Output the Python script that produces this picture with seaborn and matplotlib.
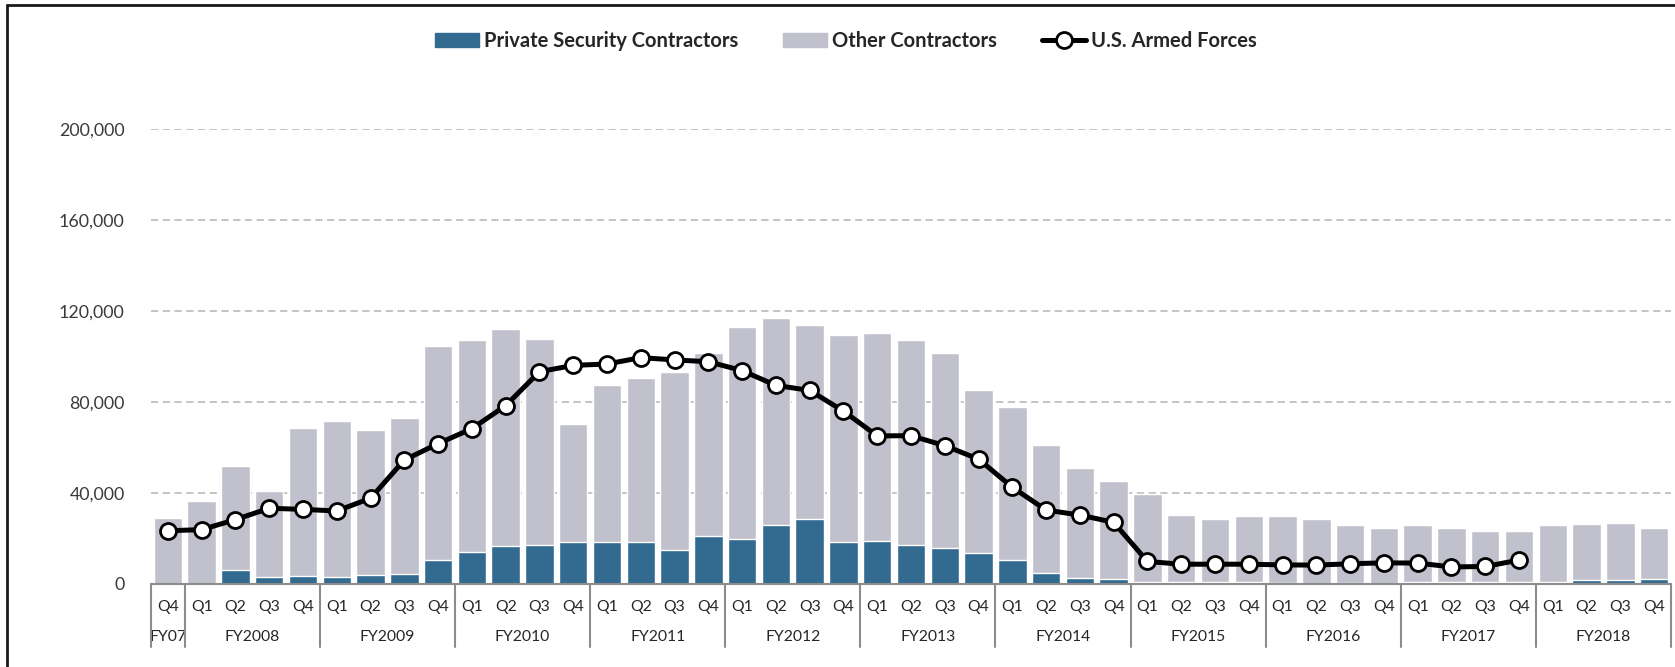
import numpy as np
import pandas as pd
import matplotlib
matplotlib.use("Agg")
import matplotlib.pyplot as plt
from matplotlib.lines import Line2D
from matplotlib.patches import Patch
import matplotlib.transforms as mtransforms
import seaborn as sns

# ---- data ----
quarters = ["Q4"] + ["Q1", "Q2", "Q3", "Q4"] * 11
fiscal_years = ["FY07", "FY2008", "FY2009", "FY2010", "FY2011", "FY2012",
                "FY2013", "FY2014", "FY2015", "FY2016", "FY2017", "FY2018"]
fy_sizes = [1] + [4] * 11

private_security = [0, 0, 6300, 3100, 3500, 3100, 4000, 4400, 10700,
                    14100, 16500, 17300, 18400, 18400, 18400, 15000, 21200,
                    19800, 25900, 28400, 18300, 18700, 17300, 16000, 13500,
                    10700, 4800, 2500, 2000, 1000, 1000, 1000, 1000,
                    600, 200, 600, 200, 1000, 1000, 1000, 1000,
                    1000, 1600, 1600, 2100]
other_contractors = [29000, 36300, 45700, 37900, 64900, 68600, 63900, 68400, 93700,
                     93200, 95500, 90500, 51900, 69200, 72200, 78300, 80500,
                     93300, 91000, 85300, 91100, 91600, 90100, 85700, 71800,
                     67100, 56100, 48300, 43100, 38600, 29400, 27500, 28900,
                     29400, 28400, 25500, 24500, 24800, 23700, 22300, 22100,
                     24800, 24600, 25100, 22600]
armed_forces = [23400, 23900, 28300, 33300, 32800, 32100, 37700, 54500, 61700,
                68300, 78400, 93300, 96100, 96700, 99500, 98500, 97700,
                93800, 87300, 85100, 76000, 65100, 65200, 60800, 54900,
                42500, 32500, 30300, 27100, 9900, 8700, 8700, 8700,
                8400, 8300, 8900, 9300, 9200, 7500, 7700, 10500]
y_ticks = [0, 40000, 80000, 120000, 160000, 200000]

BLUE = "#336a90"
GRAY = "#c1c1cd"

n = len(quarters)
df = pd.DataFrame({
    "pos": np.arange(n),
    "psc": private_security,
    "total": np.array(private_security) + np.array(other_contractors),
})

sns.set_theme(style="white")
plt.rcParams["font.family"] = ["Lato", "DejaVu Sans"]

W, H = 1675, 667
fig = plt.figure(figsize=(W / 100, H / 100), dpi=100)
ax = fig.add_axes([151 / W, (H - 584) / H, (1671 - 151) / W, (584 - 129) / H])

sns.barplot(data=df, x="pos", y="total", color=GRAY, saturation=1, width=0.84,
            ax=ax, native_scale=True, zorder=2)
sns.barplot(data=df, x="pos", y="psc", color=BLUE, saturation=1, width=0.84,
            ax=ax, native_scale=True, zorder=3)

xa = np.arange(len(armed_forces))
ax.plot(xa, armed_forces, color="black", lw=3.6, marker="o", markersize=11.5,
        markerfacecolor="white", markeredgecolor="black", markeredgewidth=2,
        zorder=5, clip_on=False)

ax.set_xlim(-0.5, n - 0.5)
ax.set_ylim(0, 200000)
ax.set_yticks(y_ticks)
ax.set_yticklabels([f"{v:,}" for v in y_ticks], fontsize=12.8, color="#3a3a3a")
ax.tick_params(axis="y", length=0, pad=19)
ax.set_xticks([])
ax.set_xlabel("")
ax.set_ylabel("")
ax.yaxis.grid(True, color="#bfbfbf", linestyle=(0, (4, 2.5)), lw=1.3, zorder=0)
ax.set_axisbelow(True)
for s in ["left", "right", "top"]:
    ax.spines[s].set_visible(False)
ax.spines["bottom"].set_color("#8c8c8c")
ax.spines["bottom"].set_linewidth(1.5)
ax.spines["bottom"].set_zorder(6)

trans = mtransforms.blended_transform_factory(ax.transData, ax.transAxes)
ppx = 1 / 455.0
for i, q in enumerate(quarters):
    ax.text(i, -23 * ppx, q, transform=trans, ha="center", va="center",
            fontsize=11.3, color="#262626")
start = -0.5
bounds = [start]
for fy, sz in zip(fiscal_years, fy_sizes):
    mid = start + sz / 2
    ax.text(mid, -53 * ppx, fy, transform=trans, ha="center", va="center",
            fontsize=11.3, color="#262626")
    start += sz
    bounds.append(start)
for b in bounds:
    ax.plot([b, b], [0, -63 * ppx], transform=trans, color="#8c8c8c", lw=1.5,
            clip_on=False, zorder=6)

handles = [Patch(facecolor=BLUE, edgecolor=BLUE),
           Patch(facecolor=GRAY, edgecolor=GRAY),
           Line2D([0], [0], color="black", lw=3.6, marker="o", markersize=11.5,
                  markerfacecolor="white", markeredgecolor="black", markeredgewidth=2)]
labels = ["Private Security Contractors", "Other Contractors", "U.S. Armed Forces"]
fig.legend(handles, labels, loc="center", bbox_to_anchor=(0.505, 1 - 41 / H),
           ncol=3, frameon=False, prop={"weight": "bold", "size": 14.5},
           handlelength=2.2, handleheight=0.7, columnspacing=2.2, handletextpad=0.25)

# outer frame (top and left)
fig.add_artist(Line2D([7 / W, 1], [1 - 5 / H, 1 - 5 / H], color="#1a1a1a", lw=2))
fig.add_artist(Line2D([7 / W, 7 / W], [0, 1 - 5 / H], color="#1a1a1a", lw=2))

fig.savefig("out.png", dpi=100, facecolor="white")
